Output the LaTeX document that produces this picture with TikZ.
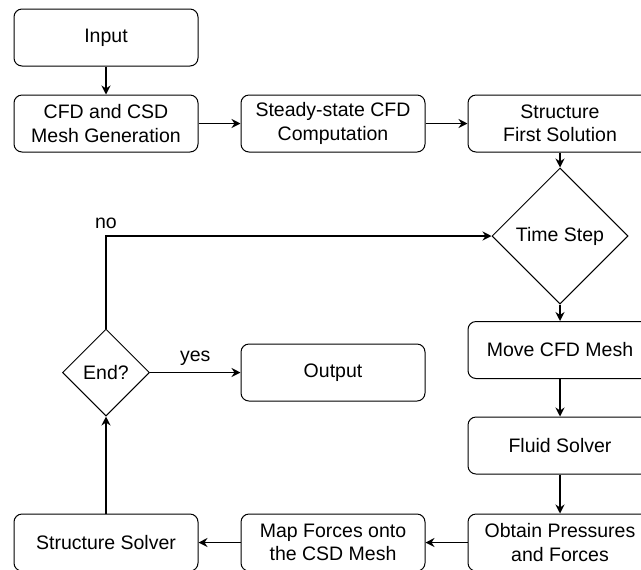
\documentclass[tikz,border=0pt]{standalone}
\usepackage{fontspec}
\setmainfont{Liberation Sans}
\usetikzlibrary{shapes.geometric,arrows.meta}

\begin{document}
\begin{tikzpicture}[x=0.5pt,y=-0.5pt,
        font=\fontsize{9.75pt}{11.7pt}\selectfont,
        procbox/.style={draw,line width=0.5pt,rounded corners=4pt,minimum width=92pt,minimum height=28.5pt,align=center,inner sep=1pt},
        decision/.style={draw,diamond,line width=0.5pt,inner sep=0pt,align=center},
        flow/.style={-{Stealth[length=4.5pt,width=4.5pt,inset=1.5pt]},line width=0.75pt}]
        \useasboundingbox (0,0) rectangle (641,569);
        %% preprocessing row
        \node[procbox] (input) at (106,37.5) {Input};
        \node[procbox] (mesh) at (106,123.5) {CFD and CSD\\Mesh Generation};
        \node[procbox] (steady) at (333,123.5) {Steady-state CFD\\Computation};
        \node[procbox] (first) at (560,123.5) {Structure\\First Solution};
        %% time loop
        \node[decision,minimum width=68pt,minimum height=68pt] (tstep) at (560,236) {Time Step};
        \node[procbox] (move) at (560,350) {Move CFD Mesh};
        \node[procbox] (fluid) at (560,445.5) {Fluid Solver};
        \node[procbox] (obtain) at (560,542.5) {Obtain Pressures\\and Forces};
        \node[procbox] (map) at (333,542.5) {Map Forces onto\\the CSD Mesh};
        \node[procbox] (ssolver) at (106,542.5) {Structure Solver};
        \node[decision,minimum width=43.5pt,minimum height=43.5pt] (endq) at (106,372.5) {End?};
        \node[procbox] (output) at (333,372.5) {Output};
        %% connectors
        \draw[flow] (input) -- (mesh);
        \draw[flow] (mesh) -- (steady);
        \draw[flow] (steady) -- (first);
        \draw[flow] (first) -- (tstep);
        \draw[flow] (tstep) -- (move);
        \draw[flow] (move) -- (fluid);
        \draw[flow] (fluid) -- (obtain);
        \draw[flow] (obtain) -- (map);
        \draw[flow] (map) -- (ssolver);
        \draw[flow] (ssolver) -- (endq);
        \draw[flow] (endq.east) -- node[above] {yes} (output.west);
        \draw[flow] (endq.north) |- node[pos=0.5,above] {no} (tstep.west);
    \end{tikzpicture}
\end{document}
